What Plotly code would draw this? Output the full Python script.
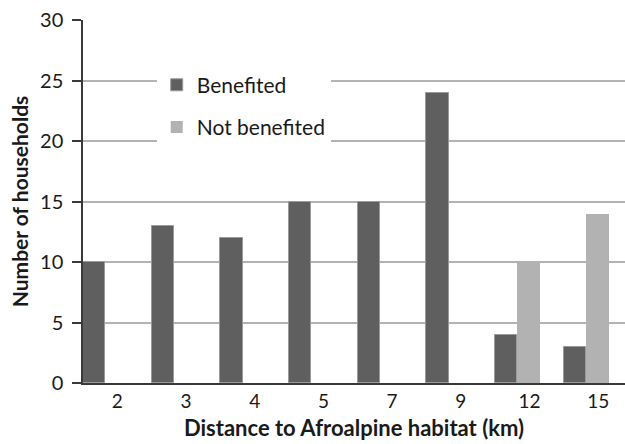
import plotly.graph_objects as go

categories = ["2", "3", "4", "5", "7", "9", "12", "15"]
benefited = [10, 13, 12, 15, 15, 24, 4, 3]
not_benefited = [0, 0, 0, 0, 0, 0, 10, 14]
y_ticks = [0, 5, 10, 15, 20, 25, 30]

FONT = "Lato"

fig = go.Figure()
fig.add_trace(go.Bar(
    x=categories, y=benefited, name="Benefited",
    marker=dict(color="#5f5f5f", line=dict(color="#9a9a9a", width=1)),
    width=0.325, offset=-0.5, legendgroup="a",
))
fig.add_trace(go.Bar(
    x=categories, y=not_benefited, name="Not benefited",
    marker=dict(color="#b2b2b2", line=dict(width=0)),
    width=0.325, offset=-0.175, legendgroup="b",
))

fig.update_layout(
    width=625, height=444,
    margin=dict(l=83, r=0, t=20, b=61),
    paper_bgcolor="white", plot_bgcolor="white",
    font=dict(family=FONT, size=19, color="#1a1a1a"),
    showlegend=True,
    legend=dict(
        x=0.136, y=0.877, xanchor="left", yanchor="top",
        bgcolor="white", font=dict(family=FONT, size=21, color="#1a1a1a"),
        tracegroupgap=12, traceorder="grouped",
        itemwidth=30,
    ),
    bargap=0, barmode="overlay",
)
fig.update_xaxes(
    type="category", categoryorder="array", categoryarray=categories,
    showline=True, linecolor="#3a3a3a", linewidth=1.5,
    ticks="", showgrid=False, automargin=False,
    ticklabelstandoff=0,
    tickfont=dict(family=FONT, size=19, color="#1a1a1a"),
    title=dict(text="<b>Distance to Afroalpine habitat (km)</b>",
               font=dict(family=FONT, size=22, color="#1a1a1a"), standoff=10),
    range=[-0.5, 7.39],
)
fig.update_yaxes(
    range=[0, 30], tickvals=y_ticks,
    showline=True, linecolor="#3a3a3a", linewidth=1.5,
    ticks="outside", ticklen=9, tickcolor="#3a3a3a", tickwidth=1.5,
    showgrid=True, gridcolor="#b3b3b3", gridwidth=1.5,
    zeroline=False, automargin=False,
    ticklabelstandoff=5,
    tickfont=dict(family=FONT, size=20, color="#1a1a1a"),
    title=dict(text="<b>Number of households</b>",
               font=dict(family=FONT, size=21, color="#1a1a1a"), standoff=6),
)

fig.write_html(
    "out.html",
    config={"displayModeBar": False},
    post_script="document.body.style.margin='0px';document.body.style.overflow='hidden';",
)
